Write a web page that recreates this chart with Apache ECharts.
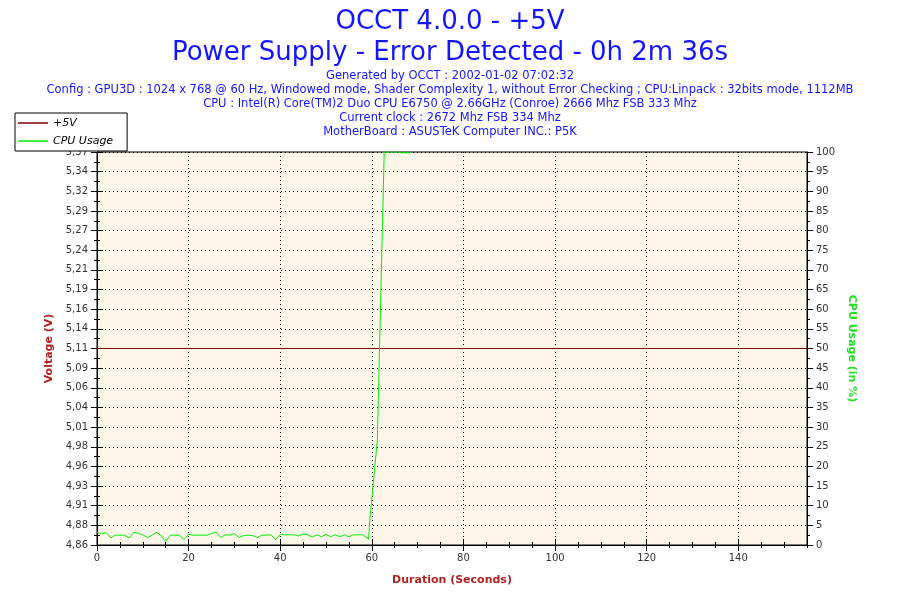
<!DOCTYPE html>
<html>
<head>
<meta charset="utf-8">
<script src="https://cdn.jsdelivr.net/npm/echarts@6/dist/echarts.min.js"></script>
<style>
html,body{margin:0;padding:0;background:#fff;}
#chart{width:900px;height:600px;}
</style>
</head>
<body>
<div id="chart"></div>
<script>
// ---- Data ----
const titleLine1 = 'OCCT 4.0.0 - +5V';
const titleLine2 = 'Power Supply - Error Detected - 0h 2m 36s';
const infoLines = [
  'Generated by OCCT : 2002-01-02 07:02:32',
  'Config : GPU3D : 1024 x 768 @ 60 Hz, Windowed mode, Shader Complexity 1, without Error Checking ; CPU:Linpack : 32bits mode, 1112MB',
  'CPU : Intel(R) Core(TM)2 Duo CPU E6750 @ 2.66GHz (Conroe) 2666 Mhz FSB 333 Mhz',
  'Current clock : 2672 Mhz FSB 334 Mhz',
  'MotherBoard : ASUSTeK Computer INC.: P5K'
];
const voltTickLabels = ['4,86','4,88','4,91','4,93','4,96','4,98','5,01','5,04','5,06','5,09','5,11',
  '5,14','5,16','5,19','5,21','5,24','5,27','5,29','5,32','5,34','5,37'];
const voltTimes = [0, 155];
const voltValues = [5.115, 5.115];
const cpuTimes = [0,1,2,3,4,5,6,7,8,9,10,11,12,13,14,15,16,17,18,19,20,21,22,23,24,25,26,27,28,29,
  30,31,32,33,34,35,36,37,38,39,40,41,42,43,44,45,46,47,48,49,50,51,52,53,54,55,56,57,58,
  59.3,59.5,61.2,62.7,65.6,66.0,66.5,68.5];
const cpuValues = [3.2,2.8,3.2,1.8,2.5,2.5,2.5,1.8,3.2,3.0,2.6,1.9,2.5,3.2,2.4,0.9,2.5,2.5,2.5,1.4,
  2.7,2.5,2.5,2.5,2.5,2.9,3.3,1.9,2.6,2.5,2.9,1.9,2.4,2.5,2.4,1.9,2.5,2.5,2.6,1.4,
  2.7,2.6,2.6,2.6,2.3,2.8,2.6,2.0,2.6,2.1,2.7,2.1,2.6,2.1,2.6,2.1,2.6,2.6,2.6,
  1.5,5.6,26.7,100,100,99.6,99.8,99.8];
const xMin = 0, xMax = 155;
const voltMin = 4.86, voltMax = 5.37;

// ---- Chart ----
const FONT = 'DejaVu Sans';
const BLUE = '#1414ff';
const VOLT_COLOR = '#800000';
const CPU_COLOR = '#00ee00';
const chart = echarts.init(document.getElementById('chart'));
const dotted = { show: true, lineStyle: { color: '#000', width: 1, type: [1, 3] } };
const tickOnly = (extra) => Object.assign({
  type: 'value', min: 0, max: 100, interval: 5,
  axisLine: { show: false }, axisLabel: { show: false }, splitLine: { show: false }
}, extra);

const titles = [
  { text: titleLine1, left: 'center', top: 4,
    textStyle: { fontFamily: FONT, fontSize: 26, fontWeight: 'normal', color: BLUE } },
  { text: titleLine2, left: 'center', top: 35,
    textStyle: { fontFamily: FONT, fontSize: 26, fontWeight: 'normal', color: BLUE } }
];
infoLines.forEach((line, i) => {
  titles.push({ text: line, left: 'center', top: 70 + i * 14, padding: 0,
    textStyle: { fontFamily: FONT, fontSize: 11.5, fontWeight: 'normal', color: BLUE } });
});

chart.setOption({
  backgroundColor: '#fff',
  animation: false,
  textStyle: { fontFamily: FONT },
  title: titles,
  legend: {
    orient: 'vertical', left: 15, top: 113, icon: 'rect',
    padding: [3, 14, 3, 3], itemGap: 4, itemWidth: 30, itemHeight: 1.5,
    backgroundColor: '#fff', borderColor: '#000', borderWidth: 1,
    textStyle: { fontFamily: FONT, fontSize: 11, fontStyle: 'italic', color: '#000', lineHeight: 14 },
    data: [
      { name: '+5V', itemStyle: { color: VOLT_COLOR } },
      { name: 'CPU Usage', itemStyle: { color: CPU_COLOR } }
    ]
  },
  grid: {
    left: 97, right: 93, top: 152, bottom: 55,
    show: true, backgroundColor: '#fdf7e9', borderColor: '#000', borderWidth: 1
  },
  xAxis: [
    { type: 'value', min: xMin, max: xMax, interval: 20, position: 'bottom',
      name: 'Duration (Seconds)', nameLocation: 'middle', nameGap: 30,
      nameTextStyle: { fontFamily: FONT, fontSize: 11, fontWeight: 'bold', color: '#b22222' },
      axisLine: { show: true, onZero: false, lineStyle: { color: '#000', width: 1 } },
      axisTick: { show: true, length: 6, lineStyle: { color: '#000' } },
      axisLabel: { showMaxLabel: false, margin: 8, fontFamily: FONT, fontSize: 10, color: '#333' },
      splitLine: dotted },
    { type: 'value', min: xMin, max: xMax, interval: 20, position: 'bottom',
      axisLine: { show: false, onZero: false }, axisLabel: { show: false }, splitLine: { show: false },
      axisTick: { show: true, inside: true, length: 6, lineStyle: { color: '#000' } } },
    { type: 'value', min: xMin, max: xMax, interval: 5, position: 'bottom',
      axisLine: { show: false, onZero: false }, axisLabel: { show: false }, splitLine: { show: false },
      axisTick: { show: true, length: 3, lineStyle: { color: '#000' } } },
    { type: 'value', min: xMin, max: xMax, interval: 5, position: 'bottom',
      axisLine: { show: false, onZero: false }, axisLabel: { show: false }, splitLine: { show: false },
      axisTick: { show: true, inside: true, length: 3, lineStyle: { color: '#000' } } }
  ],
  yAxis: [
    { type: 'value', min: 0, max: 100, interval: 5, position: 'left',
      name: 'Voltage (V)', nameLocation: 'middle', nameGap: 42,
      nameTextStyle: { fontFamily: FONT, fontSize: 11, fontWeight: 'bold', color: '#b22222' },
      axisLine: { show: true, onZero: false, lineStyle: { color: '#000', width: 1 } },
      axisTick: { show: true, length: 6, lineStyle: { color: '#000' } },
      minorTick: { show: true, splitNumber: 2, length: 3, lineStyle: { color: '#000' } },
      axisLabel: { margin: 9, fontFamily: FONT, fontSize: 10, color: '#333',
        formatter: (v) => voltTickLabels[Math.round(v / 5)] },
      splitLine: dotted },
    { type: 'value', min: 0, max: 100, interval: 5, position: 'right',
      name: 'CPU Usage (in %)', nameLocation: 'middle', nameGap: 31, nameRotate: -90,
      nameTextStyle: { fontFamily: FONT, fontSize: 11, fontWeight: 'bold', color: '#22dd22' },
      axisLine: { show: true, onZero: false, lineStyle: { color: '#000', width: 1 } },
      axisTick: { show: true, length: 6, lineStyle: { color: '#000' } },
      minorTick: { show: true, splitNumber: 2, length: 3, lineStyle: { color: '#000' } },
      axisLabel: { margin: 9, fontFamily: FONT, fontSize: 10, color: '#333' },
      splitLine: { show: false } },
    { type: 'value', min: voltMin, max: voltMax, position: 'left', show: false },
    tickOnly({ position: 'left',
      axisTick: { show: true, inside: true, length: 6, lineStyle: { color: '#000' } },
      minorTick: { show: true, splitNumber: 2, length: 3, lineStyle: { color: '#000' } } }),
    tickOnly({ position: 'right',
      axisTick: { show: true, inside: true, length: 6, lineStyle: { color: '#000' } },
      minorTick: { show: true, splitNumber: 2, length: 3, lineStyle: { color: '#000' } } })
  ],
  series: [
    { name: '+5V', type: 'line', xAxisIndex: 0, yAxisIndex: 2, symbol: 'none',
      color: VOLT_COLOR, lineStyle: { width: 1, color: VOLT_COLOR },
      data: voltTimes.map((t, i) => [t, voltValues[i]]) },
    { name: 'CPU Usage', type: 'line', xAxisIndex: 0, yAxisIndex: 1, symbol: 'none',
      color: CPU_COLOR, lineStyle: { width: 1, color: CPU_COLOR }, z: 3,
      data: cpuTimes.map((t, i) => [t, cpuValues[i]]) }
  ]
});
</script>
</body>
</html>
